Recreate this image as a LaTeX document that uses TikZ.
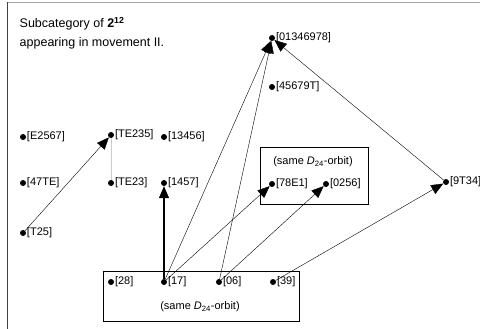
\documentclass[tikz,border=0pt]{standalone}
\usepackage{fontspec}
\setmainfont{Liberation Sans}
\usetikzlibrary{arrows.meta}
\begin{document}
\begin{tikzpicture}[x=1pt,y=-1pt,>={Triangle[length=12pt,width=10pt]},
  vert/.style={circle,fill=black,inner sep=0pt,minimum size=6pt},
  lbl/.style={font=\fontsize{11}{13}\selectfont,inner sep=0.6pt},
  orbit/.style={draw,line width=0.5pt}]
\useasboundingbox (0,0) rectangle (480,329);
\draw[gray!70] (7,2.5) -- (480,2.5);
\draw[black!75,line width=1pt] (7,2.5) -- (7,329);
\node[anchor=north west,align=left,font=\fontsize{12.5}{19}\selectfont,inner sep=0pt] (title) at (19.5,17)
  {Subcategory of \textbf{2}\textsuperscript{\textbf{12}}\\appearing in movement II.};
% boxes for the orbits
\draw[orbit] (260,147) rectangle (368,204);
\draw[orbit] (103,271) rectangle (299,321);
\node[lbl] (orbA) at (313,162) {(same {\itshape D}\textsubscript{24}-orbit)};
\node[lbl] (orbB) at (200,307) {(same {\itshape D}\textsubscript{24}-orbit)};
% vertices
\foreach \n/\x/\y in {01346978/272/38, 45679T/272/87, E2567/23/137, TE235/111/135,
    13456/164/137, 47TE/23/183, TE23/111/183, 1457/164/183, T25/23/233,
    78E1/272/184, 0256/326/184, 9T34/446/182, 28/111/282, 17/164/282,
    06/219/282, 39/273/282}{
  \node[vert,label={[lbl]right:{[\n]}}] (v\n) at (\x,\y) {};
}
% morphisms
\path[draw,gray!40,line width=0.8pt] (vTE235) -- (vTE23);
\path[draw,->,line width=0.4pt] (vT25) -- (vTE235);
\path[draw,->,line width=1.2pt] (v17) -- (v1457);
\path[draw,->,line width=0.4pt] (v17) -- (v01346978);
\path[draw,->,line width=0.4pt] (v17) -- (v78E1);
\path[draw,->,line width=0.4pt] (v06) -- (v01346978);
\path[draw,->,line width=0.4pt] (v06) -- (v0256);
\path[draw,->,line width=0.4pt] (v39) -- (v9T34);
\path[draw,->,line width=0.4pt] (v9T34) -- (v01346978);
\end{tikzpicture}
\end{document}
